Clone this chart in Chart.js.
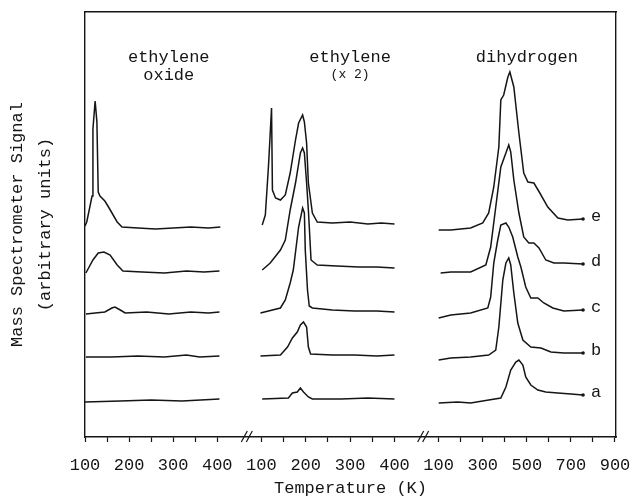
<!DOCTYPE html>
<html>
<head>
<meta charset="utf-8">
<script src="https://cdn.jsdelivr.net/npm/chart.js@4.4.1/dist/chart.umd.min.js"></script>
<style>
  body { margin: 0; background: #fff; }
  canvas { display: block; }
</style>
</head>
<body>
<canvas id="tpd" width="630" height="499"></canvas>
<script>
// TPD traces, [temperature K, signal above own baseline]
const oxideE = [[100,2],[104,6],[116,32],[118,99],[123,127],[127,106],[130,36],[134,32],[145,27],[152,22],[173,6],[184,1],[220,0],[260,-1],[300,0],[340,1],[380,0],[407,1]];
const oxideD = [[102,-1],[118,12],[130,19],[143,20],[157,17],[173,7],[186,1],[230,0],[280,-1],[330,1],[370,0],[405,1]];
const oxideC = [[102,-1],[145,1],[161,5],[168,6],[180,3],[191,0],[240,1],[290,-1],[340,1],[380,0],[405,1]];
const oxideB = [[102,0],[160,0],[220,1],[280,0],[330,2],[360,0],[405,1]];
const oxideA = [[100,-1],[180,0],[250,1],[320,0],[405,2]];

const ethE = [[102,-2],[109,8],[116,56],[123,115],[125,33],[132,25],[143,23],[154,28],[165,50],[177,83],[184,100],[193,108],[197,101],[202,80],[206,40],[215,10],[226,1],[260,0],[300,1],[340,-1],[370,0],[400,-1]];
const ethD = [[102,-4],[120,3],[143,16],[154,26],[165,56],[177,83],[188,113],[193,118],[197,113],[202,83],[206,56],[212,6],[226,1],[270,0],[320,-1],[360,-1],[400,-2]];
const ethC = [[98,-3],[143,2],[154,10],[165,27],[172,40],[184,83],[193,102],[197,97],[199,60],[204,20],[208,4],[215,2],[260,0],[310,-1],[360,-1],[400,-2]];
const ethB = [[98,-1],[143,0],[159,8],[170,17],[181,23],[188,30],[195,33],[202,28],[206,8],[211,1],[260,0],[310,0],[360,-1],[400,0]];
const ethA = [[102,0],[161,1],[170,6],[181,7],[188,11],[195,7],[206,2],[215,0],[280,0],[340,1],[400,0]];

const h2E = [[100,-11],[155,-11],[245,-9],[300,-4],[327,6],[350,32],[373,72],[382,119],[395,124],[414,142],[423,147],[441,132],[464,86],[486,46],[505,37],[532,36],[559,26],[595,12],[641,1],[686,-1],[755,0]];
const h2D = [[109,-9],[155,-8],[245,-8],[314,-1],[336,17],[359,57],[382,97],[405,111],[418,119],[427,112],[441,84],[464,51],[486,27],[509,21],[532,21],[555,16],[586,4],[623,1],[668,1],[755,0]];
const h2C = [[100,-8],[155,-5],[245,-3],[323,2],[336,13],[350,47],[368,70],[382,85],[405,87],[418,83],[436,73],[459,53],[473,43],[495,23],[518,12],[550,12],[577,7],[618,2],[668,-1],[755,0]];
const h2B = [[100,-7],[155,-5],[245,-4],[327,-2],[359,3],[373,26],[391,73],[405,90],[418,95],[427,88],[441,60],[459,30],[482,13],[518,6],[564,5],[609,1],[668,0],[755,0]];
const h2A = [[100,-8],[186,-7],[245,-8],[327,-5],[382,-3],[405,8],[427,25],[450,33],[464,35],[482,30],[495,18],[518,10],[550,5],[586,3],[641,2],[700,1],[755,0]];

// stacking offsets, order a..e
const oxideBase = [36, 80, 124, 165, 209];
const ethBase = [38, 82, 127, 171, 214];
const h2Base = [42, 84, 127, 173, 218];
const traceLabels = ['a', 'b', 'c', 'd', 'e'];

const panelTitles = [['ethylene', 'oxide'], ['ethylene', '(x 2)'], ['dihydrogen']];
const panelTicks = [[100, 200, 300, 400], [100, 200, 300, 400], [100, 300, 500, 700, 900]];
const panelMinor = [[150, 250, 350], [150, 250, 350], [200, 400, 600, 800]];

// broken temperature axis: three panels on one linear scale
const PANEL_START = [0, 176, 353];
const PANEL_SCALE = [0.44, 0.443, 0.22];
function panelX(p, T) { return PANEL_START[p] + (T - 100) * PANEL_SCALE[p]; }

const FONT = "'Liberation Mono', 'DejaVu Sans Mono', monospace";
const INK = '#151515';

const panels = [
  [oxideA, oxideB, oxideC, oxideD, oxideE],
  [ethA, ethB, ethC, ethD, ethE],
  [h2A, h2B, h2C, h2D, h2E]
];
const bases = [oxideBase, ethBase, h2Base];

const datasets = [];
panels.forEach((traces, p) => {
  traces.forEach((tr, i) => {
    datasets.push({
      data: tr.map(pt => ({ x: panelX(p, pt[0]), y: bases[p][i] + pt[1] })),
      borderColor: INK,
      borderWidth: 1.5,
      pointRadius: ctx => (p === 2 && ctx.dataIndex === tr.length - 1) ? 1.8 : 0,
      pointBackgroundColor: INK,
      pointBorderWidth: 0,
      tension: 0,
      panel: p,
      label: traceLabels[i]
    });
  });
});

const tickText = {};
const tickValues = [];
panelTicks.forEach((list, p) => list.forEach(T => { const v = panelX(p, T); tickText[v.toFixed(2)] = String(T); tickValues.push(v); }));
panelMinor.forEach((list, p) => list.forEach(T => tickValues.push(panelX(p, T))));
tickValues.sort((a, b) => a - b);

const decorations = {
  id: 'decorations',
  afterDatasetsDraw(chart) {
    const { ctx, scales: { x, y } } = chart;
    ctx.save();
    ctx.fillStyle = INK;
    ctx.strokeStyle = INK;
    ctx.textAlign = 'center';
    ctx.textBaseline = 'middle';

    // panel titles
    const titleT = [290, 300, 500];
    panelTitles.forEach((lines, p) => {
      const cx = x.getPixelForValue(panelX(p, titleT[p]));
      lines.forEach((txt, k) => {
        ctx.font = (p === 1 && k === 1) ? '13px ' + FONT : '17px ' + FONT;
        ctx.fillText(txt, cx, y.getPixelForValue(380 - k * 18));
      });
    });

    // trace letters at the end of the dihydrogen traces
    ctx.font = '17px ' + FONT;
    chart.data.datasets.forEach((ds, i) => {
      if (ds.panel !== 2) return;
      const pts = chart.getDatasetMeta(i).data;
      const last = pts[pts.length - 1];
      ctx.fillText(ds.label, last.x + 13, last.y - 3);
    });

    // axis break marks
    const yb = y.bottom;
    ctx.lineWidth = 1.2;
    [162, 338].forEach(v => {
      const bx = x.getPixelForValue(v);
      [-3, 2].forEach(dx => {
        ctx.beginPath();
        ctx.moveTo(bx + dx - 3, yb + 5);
        ctx.lineTo(bx + dx + 3, yb - 6);
        ctx.stroke();
      });
    });
    ctx.restore();
  }
};

new Chart(document.getElementById('tpd'), {
  type: 'line',
  data: { datasets: datasets },
  options: {
    responsive: false,
    animation: false,
    layout: { padding: 0 },
    plugins: { legend: { display: false }, tooltip: { enabled: false } },
    scales: {
      x: {
        type: 'linear',
        position: 'bottom',
        min: 0,
        max: 530,
        afterBuildTicks: scale => { scale.ticks = tickValues.map(v => ({ value: v })); },
        afterFit: scale => { scale.height = 62; scale.paddingLeft = 0; scale.paddingRight = 0; },
        ticks: {
          autoSkip: false,
          maxRotation: 0,
          padding: 13,
          color: INK,
          font: { family: FONT, size: 17 },
          callback: v => tickText[Number(v).toFixed(2)] || ''
        },
        grid: { drawOnChartArea: false, drawTicks: true, tickLength: 5, tickColor: INK, tickWidth: 1.2 },
        border: { display: true, color: INK, width: 1.4 },
        title: {
          display: true,
          text: 'Temperature (K)',
          color: INK,
          font: { family: FONT, size: 17 },
          padding: { top: 0, bottom: 0 }
        }
      },
      xTop: {
        type: 'linear',
        position: 'top',
        min: 0,
        max: 530,
        afterFit: scale => { scale.height = 12; scale.paddingLeft = 0; scale.paddingRight = 0; },
        ticks: { display: false },
        grid: { display: false },
        border: { display: true, color: INK, width: 1.4 }
      },
      y: {
        type: 'linear',
        position: 'left',
        min: 0,
        max: 425,
        afterFit: scale => { scale.width = 85; },
        ticks: { display: false },
        grid: { display: false },
        border: { display: true, color: INK, width: 1.4 },
        title: {
          display: true,
          text: ['Mass Spectrometer Signal', '(arbitrary units)'],
          color: INK,
          font: { family: FONT, size: 17, lineHeight: 1.65 },
          padding: { top: 3, bottom: 0 }
        }
      },
      yRight: {
        type: 'linear',
        position: 'right',
        min: 0,
        max: 425,
        afterFit: scale => { scale.width = 14; },
        ticks: { display: false },
        grid: { display: false },
        border: { display: true, color: INK, width: 1.4 }
      }
    }
  },
  plugins: [decorations]
});
</script>
</body>
</html>
